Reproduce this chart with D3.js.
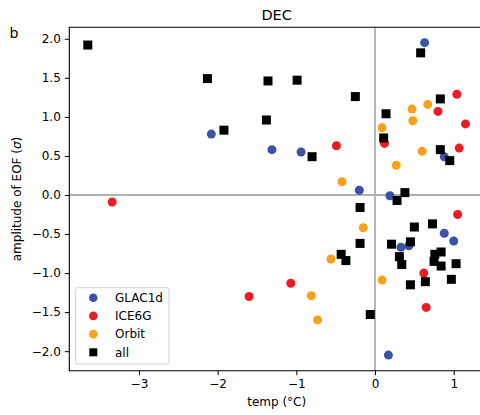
<!DOCTYPE html>
<html lang="en">
<head>
  <meta charset="UTF-8"/>
  <title>DEC</title>
  <script src="https://d3js.org/d3.v7.min.js"></script>
  <style>
    body { margin:0; background:#fff; font-family:"DejaVu Sans",sans-serif; }
    svg { display:block; }
    .tick text { font-size:12px; fill:#000; }
  </style>
</head>
<body>
  <svg width="480" height="415"></svg>
  <script>
    // series values: [temp, amplitude]
    const glac1d = [
      [-2.08, 0.78], [-1.31, 0.58], [-0.94, 0.55], [-0.20, 0.06], [0.63, 1.95],
      [0.19, -0.01], [0.88, 0.49], [0.33, -0.67], [0.43, -0.65], [0.88, -0.49],
      [1.00, -0.59], [0.17, -2.05]
    ];
    const ice6g = [
      [-3.34, -0.09], [-0.49, 0.63], [0.12, 0.66], [1.04, 1.29], [0.80, 1.07],
      [1.15, 0.91], [1.07, 0.60], [1.05, -0.25], [0.62, -1.00], [0.65, -1.44],
      [-1.07, -1.13], [-1.60, -1.30]
    ];
    const orbit = [
      [-0.42, 0.17], [0.09, 0.86], [0.47, 1.10], [0.67, 1.16], [0.48, 0.95],
      [0.60, 0.56], [0.27, 0.38], [-0.15, -0.42], [-0.56, -0.82], [0.09, -1.09],
      [-0.81, -1.29], [-0.73, -1.60]
    ];
    const all = [
      [-3.65, 1.92], [-2.13, 1.49], [-1.36, 1.46], [-0.99, 1.47], [-1.92, 0.83],
      [-1.38, 0.96], [-0.80, 0.49], [-0.25, 1.26], [0.58, 1.82], [0.83, 1.23],
      [0.14, 1.04], [0.11, 0.73], [0.83, 0.58], [0.95, 0.44], [0.38, 0.03],
      [0.28, -0.07], [-0.19, -0.16], [0.50, -0.41], [0.73, -0.37], [-0.19, -0.62],
      [0.21, -0.63], [0.45, -0.60], [-0.43, -0.76], [-0.37, -0.84], [0.31, -0.79],
      [0.34, -0.89], [0.76, -0.76], [0.84, -0.73], [0.75, -0.85], [0.84, -0.91],
      [1.03, -0.88], [0.45, -1.15], [0.64, -1.11], [0.97, -1.08], [-0.06, -1.53]
    ];
    const seriesNames = ['GLAC1d', 'ICE6G', 'Orbit', 'all'];
    const seriesColors = ['#3a53a4', '#ec1c24', '#f9a11b', '#000000'];
    const xTicks = [-3, -2, -1, 0, 1];
    const yTicks = [-2, -1.5, -1, -0.5, 0, 0.5, 1, 1.5, 2];

    const svg = d3.select('svg');
    const mLeft = 69.3, mRight = 484, mTop = 27.3, mBottom = 370.7;

    const x = d3.scaleLinear().domain([-3.885, 1.385]).range([mLeft, mRight]);
    const y = d3.scaleLinear().domain([-2.25, 2.147]).range([mBottom, mTop]);

    // zero lines
    svg.append('line')
      .attr('x1', mLeft).attr('x2', mRight)
      .attr('y1', y(0)).attr('y2', y(0))
      .attr('stroke', '#b0b0b0').attr('stroke-width', 1.8);
    svg.append('line')
      .attr('x1', x(0)).attr('x2', x(0))
      .attr('y1', mTop).attr('y2', mBottom)
      .attr('stroke', '#b0b0b0').attr('stroke-width', 1.8);

    // circles
    [glac1d, ice6g, orbit].forEach((data, i) => {
      svg.append('g').selectAll('circle')
        .data(data).join('circle')
          .attr('cx', d => x(d[0])).attr('cy', d => y(d[1]))
          .attr('r', 4.5)
          .attr('fill', seriesColors[i]);
    });

    // squares on top
    const sq = 9;
    svg.append('g').selectAll('rect')
      .data(all).join('rect')
        .attr('x', d => x(d[0]) - sq/2).attr('y', d => y(d[1]) - sq/2)
        .attr('width', sq).attr('height', sq)
        .attr('fill', '#000');

    // axes
    const xAxis = svg.append('g')
      .attr('transform', `translate(0,${mBottom})`)
      .call(d3.axisBottom(x).tickValues(xTicks).tickSizeOuter(0).tickSize(4.5).tickPadding(4)
        .tickFormat(d => d3.format('d')(d).replace('-', '\u2212')));
    xAxis.select('.domain').remove();

    const yAxis = svg.append('g')
      .attr('transform', `translate(${mLeft},0)`)
      .call(d3.axisLeft(y).tickValues(yTicks).tickSizeOuter(0).tickSize(4.5).tickPadding(4)
        .tickFormat(d => d3.format('.1f')(d).replace('-', '\u2212')));
    yAxis.select('.domain').remove();

    svg.selectAll('.tick line').attr('stroke', '#000').attr('stroke-width', 1);
    svg.selectAll('.tick text').attr('font-family', 'DejaVu Sans');

    // spines
    svg.append('path')
      .attr('d', `M${mRight},${mTop}H${mLeft}V${mBottom}H${mRight}`)
      .attr('fill', 'none').attr('stroke', '#000').attr('stroke-width', 1.1);

    // labels
    svg.append('text').text('DEC')
      .attr('x', (mLeft + mRight) / 2).attr('y', mTop - 7)
      .attr('text-anchor', 'middle').attr('font-size', 14.5);
    svg.append('text').text('b')
      .attr('x', 14).attr('y', 38)
      .attr('text-anchor', 'middle').attr('font-size', 14);
    svg.append('text').text('temp (°C)')
      .attr('x', (mLeft + mRight) / 2).attr('y', 406)
      .attr('text-anchor', 'middle').attr('font-size', 12);
    const yl = svg.append('text')
      .attr('transform', `translate(21,${(mTop + mBottom) / 2}) rotate(-90)`)
      .attr('text-anchor', 'middle').attr('font-size', 12);
    yl.append('tspan').text('amplitude of EOF (');
    yl.append('tspan').attr('font-style', 'italic').text('σ');
    yl.append('tspan').text(')');

    // legend
    const lg = svg.append('g');
    lg.append('rect')
      .attr('x', 75.7).attr('y', 287.7).attr('width', 93.3).attr('height', 76.3)
      .attr('rx', 2.5).attr('fill', '#fff').attr('fill-opacity', 0.8)
      .attr('stroke', '#d0d0d0').attr('stroke-width', 1);
    seriesNames.forEach((name, i) => {
      const cy = 297.7 + i * 18.2;
      if (i < 3) {
        lg.append('circle').attr('cx', 93.3).attr('cy', cy).attr('r', 4.3)
          .attr('fill', seriesColors[i]);
      } else {
        lg.append('rect').attr('x', 93.3 - 4).attr('y', cy - 4)
          .attr('width', 8).attr('height', 8).attr('fill', '#000');
      }
      lg.append('text').text(name)
        .attr('x', 115).attr('y', cy + 4.3)
        .attr('font-size', 12);
    });
  </script>
</body>
</html>
